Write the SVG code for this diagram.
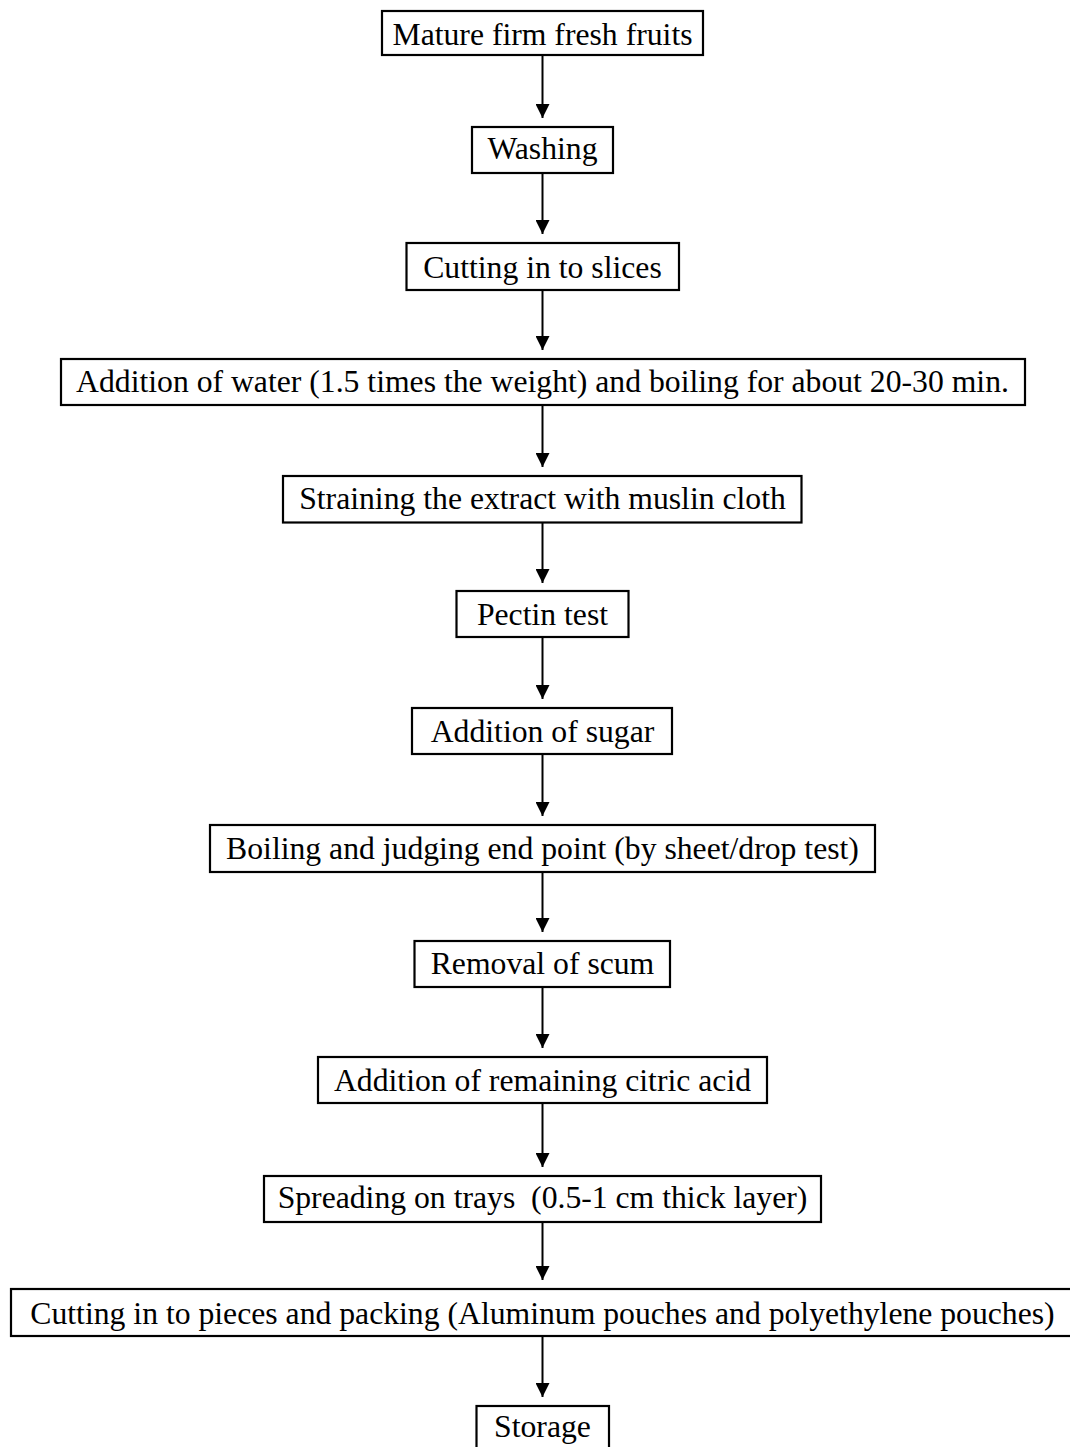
<svg xmlns="http://www.w3.org/2000/svg" width="1070" height="1447" viewBox="0 0 1070 1447">
<style>
.box{fill:#fff;stroke:#000;stroke-width:2.2}
.lbl{font-family:"Liberation Serif","Times New Roman",serif;font-size:31.7px;fill:#000;text-anchor:middle;white-space:pre}
.con{stroke:#000;stroke-width:2;fill:none}
</style>
<defs>
<marker id="ah" markerUnits="userSpaceOnUse" markerWidth="14" markerHeight="14" viewBox="0 0 14 14" refX="14" refY="7" orient="auto">
<path d="M0,0 L14,7 L0,14 Z" fill="#000"/>
</marker>
</defs>
<rect width="1070" height="1447" fill="#fff"/>
<g id="connectors">
<line class="con" x1="542.5" y1="55" x2="542.5" y2="118" marker-end="url(#ah)"/>
<line class="con" x1="542.5" y1="173" x2="542.5" y2="234" marker-end="url(#ah)"/>
<line class="con" x1="542.5" y1="290" x2="542.5" y2="350" marker-end="url(#ah)"/>
<line class="con" x1="542.5" y1="405" x2="542.5" y2="467" marker-end="url(#ah)"/>
<line class="con" x1="542.5" y1="522.5" x2="542.5" y2="583" marker-end="url(#ah)"/>
<line class="con" x1="542.5" y1="637" x2="542.5" y2="699" marker-end="url(#ah)"/>
<line class="con" x1="542.5" y1="754" x2="542.5" y2="816" marker-end="url(#ah)"/>
<line class="con" x1="542.5" y1="872" x2="542.5" y2="932" marker-end="url(#ah)"/>
<line class="con" x1="542.5" y1="987" x2="542.5" y2="1048" marker-end="url(#ah)"/>
<line class="con" x1="542.5" y1="1103" x2="542.5" y2="1167" marker-end="url(#ah)"/>
<line class="con" x1="542.5" y1="1222" x2="542.5" y2="1280" marker-end="url(#ah)"/>
<line class="con" x1="542.5" y1="1336" x2="542.5" y2="1397" marker-end="url(#ah)"/>
</g>
<g id="n1"><rect class="box" x="382" y="11" width="321" height="44"/><text class="lbl" x="542.5" y="44.5">Mature firm fresh fruits</text></g>
<g id="n2"><rect class="box" x="472" y="127" width="141" height="46"/><text class="lbl" x="542.5" y="158.5">Washing</text></g>
<g id="n3"><rect class="box" x="406.5" y="243" width="272.5" height="47"/><text class="lbl" x="542.5" y="277.5">Cutting in to slices</text></g>
<g id="n4"><rect class="box" x="61" y="359" width="964" height="46"/><text class="lbl" x="542.5" y="392">Addition of water (1.5 times the weight) and boiling for about 20-30 min.</text></g>
<g id="n5"><rect class="box" x="283" y="476" width="518.5" height="46.5"/><text class="lbl" x="542.5" y="508.5">Straining the extract with muslin cloth</text></g>
<g id="n6"><rect class="box" x="456.5" y="591" width="172" height="46"/><text class="lbl" x="542.5" y="625">Pectin test</text></g>
<g id="n7"><rect class="box" x="412" y="708" width="260" height="46"/><text class="lbl" x="542.5" y="741.5">Addition of sugar</text></g>
<g id="n8"><rect class="box" x="210" y="825" width="665" height="47"/><text class="lbl" x="542.5" y="858.5">Boiling and judging end point (by sheet/drop test)</text></g>
<g id="n9"><rect class="box" x="414.5" y="941" width="255.5" height="46"/><text class="lbl" x="542.5" y="973.5">Removal of scum</text></g>
<g id="n10"><rect class="box" x="318" y="1057" width="449" height="46"/><text class="lbl" x="542.5" y="1090.5">Addition of remaining citric acid</text></g>
<g id="n11"><rect class="box" x="264" y="1176" width="557" height="46"/><text class="lbl" x="542.5" y="1207.5">Spreading on trays  (0.5-1 cm thick layer)</text></g>
<g id="n12"><rect class="box" x="11" y="1289" width="1064" height="47"/><text class="lbl" x="542.5" y="1323.5">Cutting in to pieces and packing (Aluminum pouches and polyethylene pouches)</text></g>
<g id="n13"><rect class="box" x="476.5" y="1406" width="132.5" height="49"/><text class="lbl" x="542.5" y="1437">Storage</text></g>
</svg>
